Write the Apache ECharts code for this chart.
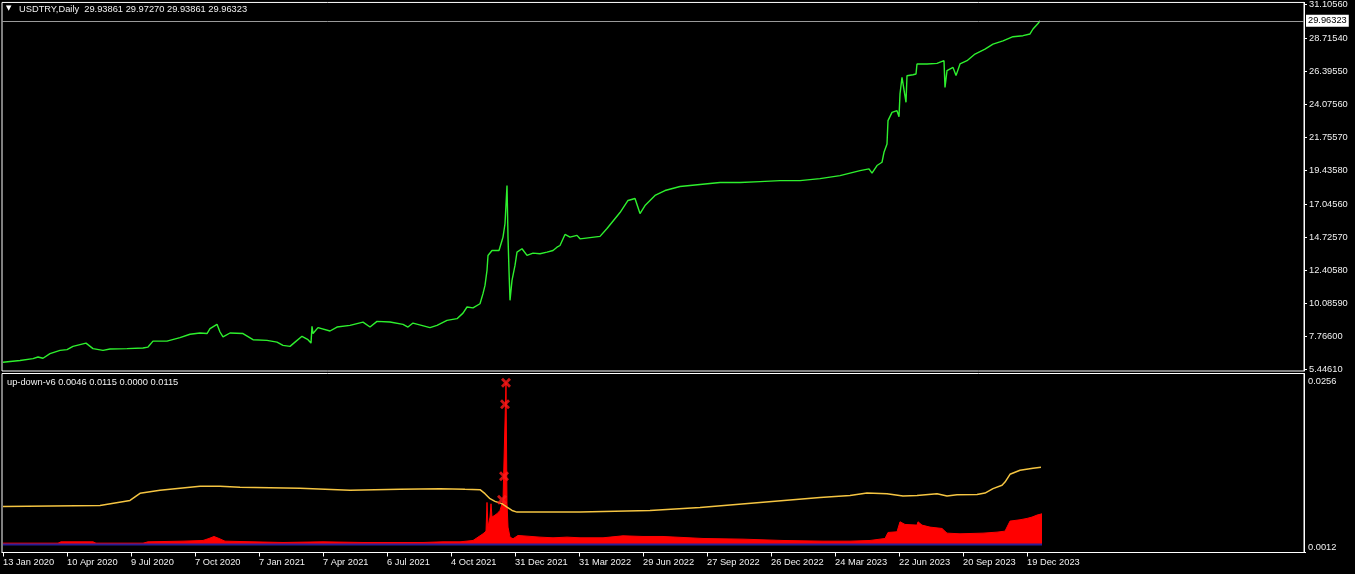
<!DOCTYPE html>
<html><head><meta charset="utf-8">
<script src="https://cdn.jsdelivr.net/npm/echarts@6/dist/echarts.min.js"></script>
<style>html,body{margin:0;padding:0;background:#000;overflow:hidden}#c{width:1355px;height:574px}</style>
</head><body><div id="c"></div>
<script>
// ---- data ----
const symbolName = 'USDTRY,Daily';
const ohlc = ['29.93861', '29.97270', '29.93861', '29.96323'];
const indName = 'up-down-v6';
const indValues = ['0.0046', '0.0115', '0.0000', '0.0115'];
const lastClose = 29.96323;

const tickIdx = [0,64,128,192,256,320,384,448,512,576,640,704,768,832,896,960,1024];
const tickLabels = ['13 Jan 2020','10 Apr 2020','9 Jul 2020','7 Oct 2020','7 Jan 2021','7 Apr 2021','6 Jul 2021','4 Oct 2021','31 Dec 2021','31 Mar 2022','29 Jun 2022','27 Sep 2022','26 Dec 2022','24 Mar 2023','22 Jun 2023','20 Sep 2023','19 Dec 2023'];

const priceTicks = [5.44610, 7.76600, 10.08590, 12.40580, 14.72570, 17.04560, 19.43580, 21.75570, 24.07560, 26.39550, 28.71540, 31.10560];
const indTopTick = [0.0256];
const indBottomTick = [-0.0012];
const indBottomText = ['0.0012'];

// close prices by bar index
const priceIdx = [0,17,30,35,40,47,57,64,70,83,90,100,107,124,140,145,150,164,177,187,197,204,207,214,217,220,227,240,250,264,274,280,287,292,299,305,308,309,310,315,327,334,347,360,367,374,387,400,405,410,427,434,444,454,460,464,470,477,480,482,484,485,489,490,496,499,500,502,504,505,506,507,509,512,514,519,524,530,537,544,550,554,557,562,567,574,577,597,604,617,625,632,637,642,652,662,677,697,717,737,757,777,797,817,837,857,866,869,874,879,881,884,885,889,894,896,897,899,903,904,910,913,914,924,934,941,942,944,950,953,957,964,972,982,990,1000,1010,1020,1027,1030,1035,1037];
const priceVal = [5.92,6.04,6.18,6.29,6.20,6.53,6.76,6.81,7.04,7.27,6.88,6.76,6.85,6.88,6.92,6.99,7.41,7.41,7.65,7.89,7.98,7.94,8.29,8.59,8.05,7.70,7.98,7.94,7.51,7.46,7.34,7.11,7.04,7.34,7.75,7.51,7.27,8.45,7.94,8.36,8.12,8.40,8.52,8.75,8.40,8.80,8.75,8.59,8.40,8.68,8.36,8.52,8.87,8.99,9.38,9.81,9.75,10.04,10.75,11.33,12.39,13.44,13.79,13.91,13.79,14.49,14.73,15.67,18.36,14.73,12.39,10.28,11.68,12.74,13.67,13.91,13.44,13.60,13.56,13.67,13.79,14.02,14.14,14.92,14.73,14.85,14.61,14.78,15.34,16.46,17.31,17.45,16.39,16.95,17.66,18.01,18.29,18.43,18.57,18.57,18.64,18.71,18.71,18.85,19.06,19.41,19.53,19.23,19.77,20.00,20.70,21.29,22.93,23.51,23.63,23.21,24.81,25.97,24.22,26.09,26.16,26.21,26.92,26.92,26.96,27.15,25.27,26.45,26.68,26.10,26.92,27.15,27.62,27.97,28.32,28.55,28.84,28.91,29.03,29.38,29.77,29.96];

// indicator: yellow line
const yelIdx = [0,97,127,137,157,197,217,237,297,347,397,437,462,477,482,487,492,499,504,509,514,577,647,697,757,817,847,864,884,900,914,934,944,954,974,982,990,999,1002,1007,1017,1030,1038];
const yelVal = [0.00570,0.00585,0.00660,0.00766,0.00811,0.00871,0.00871,0.00856,0.00841,0.00811,0.00826,0.00836,0.00826,0.00821,0.00761,0.00686,0.00645,0.00611,0.00560,0.00510,0.00485,0.00485,0.00510,0.00555,0.00630,0.00705,0.00735,0.00770,0.00761,0.00725,0.00735,0.00761,0.00725,0.00746,0.00750,0.00770,0.00836,0.00886,0.00935,0.01051,0.01111,0.01141,0.01156];

// indicator: red histogram
const redIdx = [0,55,58,90,93,140,145,180,200,206,211,216,222,250,280,320,360,420,440,457,470,480,483,484,485,487,488,489,494,497,499,500,502,503,504,505,507,510,515,524,537,550,564,577,600,620,640,660,700,740,780,820,847,867,882,885,894,897,902,914,915,919,927,939,944,957,980,994,1002,1007,1017,1024,1029,1034,1039];
const redVal = [0.0002,0.0002,0.0004,0.0004,0.0002,0.0002,0.0004,0.0005,0.0006,0.0009,0.0012,0.0009,0.0005,0.0004,0.0003,0.0004,0.0003,0.0003,0.0004,0.0004,0.0006,0.0016,0.0020,0.0063,0.0026,0.0041,0.0061,0.0041,0.0046,0.0051,0.0061,0.0066,0.0068,0.0243,0.0062,0.0026,0.0011,0.00086,0.00135,0.00125,0.0011,0.0010,0.0011,0.0010,0.0010,0.0013,0.0012,0.0012,0.0009,0.0008,0.0006,0.0005,0.0005,0.0006,0.0009,0.0018,0.0019,0.0034,0.0030,0.0029,0.0034,0.0029,0.0026,0.0024,0.0017,0.0016,0.0017,0.00185,0.0020,0.0035,0.0037,0.0039,0.0041,0.0044,0.0046];

// indicator: zero (blue) buffer
const blueIdx = [0, 1039];
const blueVal = [0, 0];

// indicator: cross markers
const crossIdx = [499, 501, 502, 503];
const crossVal = [0.0067, 0.0102, 0.0210, 0.0242];

// ---- chart ----
const zip = (a, b) => a.map((v, i) => [v, b[i]]);
const FONT = '"Liberation Sans", Arial, sans-serif';
const FS = 9.3;
const TXT = '#f0f0f0';
const xMin = -1, xMax = 1301;

const chart = echarts.init(document.getElementById('c'), null, {renderer: 'canvas'});
const option = {
  backgroundColor: '#000',
  animation: false,
  textStyle: {fontFamily: FONT},
  title: [
    {text: '▼', left: 6, top: 5, padding: 0, textStyle: {color: '#fff', fontSize: 7, fontWeight: 'normal', fontFamily: '"DejaVu Sans", sans-serif'}},
    {text: symbolName + '  ' + ohlc.join(' '), left: 19, top: 5, padding: 0, textStyle: {color: TXT, fontSize: FS, fontWeight: 'normal', fontFamily: FONT}},
    {text: indName + ' ' + indValues.join(' '), left: 7, top: 378, padding: 0, textStyle: {color: TXT, fontSize: FS, fontWeight: 'normal', fontFamily: FONT}}
  ],
  grid: [
    {left: 2, right: 51, top: 2, height: 369, show: true, borderColor: '#fff', borderWidth: 1, backgroundColor: '#000'},
    {left: 2, right: 51, top: 373.5, height: 179, show: true, borderColor: '#fff', borderWidth: 1, backgroundColor: '#000'}
  ],
  xAxis: [
    {type: 'value', gridIndex: 0, min: xMin, max: xMax, show: false},
    {type: 'value', gridIndex: 1, min: xMin, max: xMax,
      axisLine: {show: true, onZero: false, lineStyle: {color: '#fff', width: 1}},
      axisTick: {show: true, customValues: tickIdx, length: 4, lineStyle: {color: '#fff'}},
      axisLabel: {customValues: tickIdx, formatter: v => tickLabels[tickIdx.indexOf(v)] || '', align: 'left', color: TXT, fontSize: FS, fontFamily: FONT, margin: 5},
      splitLine: {show: false}}
  ],
  yAxis: [
    {type: 'value', gridIndex: 0, position: 'right', min: 5.305, max: 31.25,
      axisLine: {show: true, onZero: false, lineStyle: {color: '#fff'}},
      axisTick: {show: true, inside: false, customValues: priceTicks, length: 3, lineStyle: {color: '#fff'}},
      axisLabel: {customValues: priceTicks, formatter: v => v.toFixed(5), color: TXT, fontSize: FS, fontFamily: FONT, margin: 5},
      splitLine: {show: false}},
    {type: 'value', gridIndex: 1, position: 'right', min: -0.0012, max: 0.0256,
      axisLine: {show: true, onZero: false, lineStyle: {color: '#fff'}},
      axisTick: {show: false},
      axisLabel: {customValues: indTopTick, formatter: v => v.toFixed(4), verticalAlign: 'top', color: TXT, fontSize: FS, fontFamily: FONT, margin: 4, padding: [3, 0, 0, 0]},
      splitLine: {show: false}},
    {type: 'value', gridIndex: 1, position: 'right', min: -0.0012, max: 0.0256,
      axisLine: {show: false, onZero: false},
      axisTick: {show: true, inside: false, customValues: indBottomTick, length: 2, lineStyle: {color: '#fff'}},
      axisLabel: {customValues: indBottomTick, formatter: () => indBottomText[0], verticalAlign: 'bottom', color: TXT, fontSize: FS, fontFamily: FONT, margin: 4, padding: [0, 0, 1, 0]},
      splitLine: {show: false}}
  ],
  series: [
    {name: 'close', type: 'line', xAxisIndex: 0, yAxisIndex: 0, data: zip(priceIdx, priceVal),
      showSymbol: false, symbol: 'none', lineStyle: {color: '#2ef02e', width: 1.4}, z: 3,
      markLine: {silent: true, symbol: ['none', 'none'], animation: false,
        lineStyle: {color: '#9a9a9a', type: 'solid', width: 1},
        label: {show: true, position: 'end', distance: 2, formatter: () => lastClose.toFixed(5),
          backgroundColor: '#fff', color: '#000', fontSize: FS, fontFamily: FONT, padding: [2, 2, 1, 2]},
        data: [{yAxis: lastClose}]}},
    {name: 'hist', type: 'line', xAxisIndex: 1, yAxisIndex: 1, data: zip(redIdx, redVal),
      showSymbol: false, symbol: 'none', lineStyle: {color: '#ff0000', width: 1},
      areaStyle: {color: '#ff0000', opacity: 1, origin: 0}, z: 2},
    {name: 'signal', type: 'line', xAxisIndex: 1, yAxisIndex: 1, data: zip(yelIdx, yelVal),
      showSymbol: false, symbol: 'none', lineStyle: {color: '#f5c542', width: 1.5}, z: 4},
    {name: 'zero', type: 'line', xAxisIndex: 1, yAxisIndex: 1, data: zip(blueIdx, blueVal),
      showSymbol: false, symbol: 'none', lineStyle: {color: '#2a1e96', width: 2}, z: 5},
    {name: 'cross', type: 'scatter', xAxisIndex: 1, yAxisIndex: 1, data: zip(crossIdx, crossVal),
      symbol: 'path://M0,2L2,0L5,3L8,0L10,2L7,5L10,8L8,10L5,7L2,10L0,8L3,5Z',
      symbolSize: 10, itemStyle: {color: '#ff1a1a'}, z: 6}
  ]
};
chart.setOption(option);
</script>
</body></html>
